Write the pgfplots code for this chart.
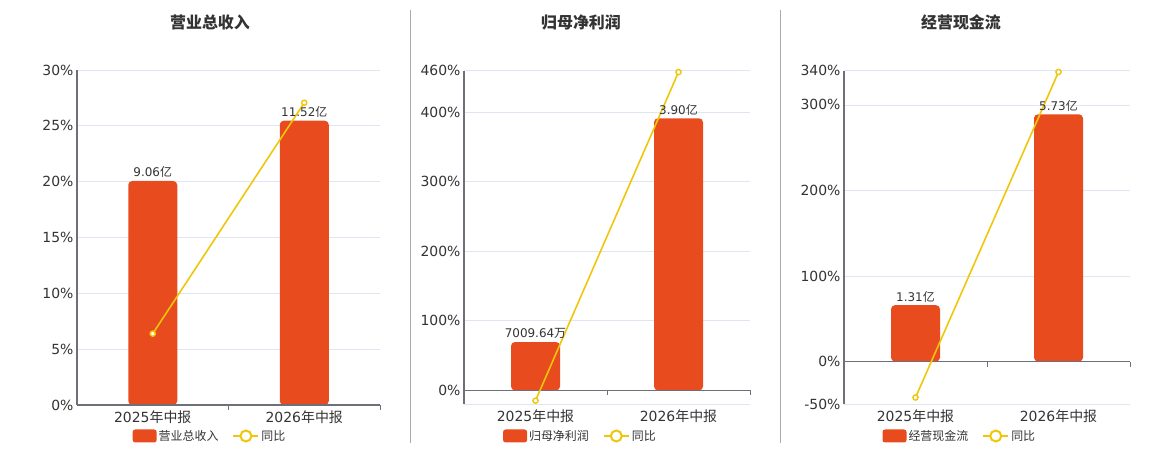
\documentclass[border=0pt]{standalone}
\usepackage{pgfplots}
\pgfplotsset{compat=1.18}
\usepackage{fontspec}
\setmainfont{DejaVu Sans}
\newfontfamily\cjk{Noto Sans CJK SC}
\definecolor{barc}{RGB}{232,76,30}
\definecolor{linec}{RGB}{240,198,10}
\definecolor{gridc}{RGB}{224,230,241}
\definecolor{axc}{RGB}{110,112,121}
\definecolor{txt}{RGB}{51,51,51}
\definecolor{sepc}{RGB}{170,170,170}
\pgfplotsset{
  panel/.style={
    scale only axis,
    axis line style={draw=none},
    major tick length=0pt,
    xmin=-0.5, xmax=1.5,
    xtick={0,1},
    xticklabels={{2025{\cjk 年中报}},{2026{\cjk 年中报}}},
    ymajorgrids, grid style={gridc, line width=0.8bp},
    tick label style={font=\fontsize{14}{16}\selectfont, text=txt},
    xticklabel style={yshift=-2bp},
    clip=false,
    legend columns=2,
    legend style={draw=none, fill=none, font=\fontsize{12}{14}\selectfont\cjk, text=txt,
      /tikz/every even column/.append style={column sep=12bp}},
  },
  barplot/.style={ybar, fill=barc, draw=none, bar width=49bp, rounded corners=4bp,
    point meta=explicit symbolic, nodes near coords,
    nodes near coords style={font=\fontsize{12}{14}\selectfont, text=txt, inner sep=3bp},
    legend image code/.code={\fill[barc, rounded corners=2.5bp] (0bp,-6.5bp) rectangle (24bp,6.5bp);}},
  lineplot/.style={linec, line width=1.6bp, mark=*, mark size=2.6bp,
    mark options={fill=white, draw=linec, line width=1.4bp},
    legend image code/.code={\draw[linec, line width=2bp] (0bp,0bp) -- (25bp,0bp);
      \draw[linec, fill=white, line width=2bp] (12.5bp,0bp) circle (5.5bp);}},
  axdraw/.code={},
}
\newcommand{\axislines}{%
  \draw[axc, line width=1.3bp] (axis cs:-0.5,0) -- (axis cs:1.5,0);
  \draw[axc, line width=1.3bp] (rel axis cs:0,0) -- (rel axis cs:0,1);
  \draw[axc, line width=1bp] (axis cs:0.5,0) -- ([yshift=-5bp]axis cs:0.5,0);
  \draw[axc, line width=1bp] (axis cs:1.5,0) -- ([yshift=-5bp]axis cs:1.5,0);
}
\begin{document}
\begin{tikzpicture}
\path[use as bounding box] (0,0) rectangle (1160bp,450bp);
\draw[sepc, line width=1bp] (410bp,7bp) -- (410bp,440bp);
\draw[sepc, line width=1bp] (780bp,7bp) -- (780bp,440bp);
\node[font=\fontsize{16}{18}\selectfont\cjk\bfseries, text=txt] at (210bp,428bp) {营业总收入};
\node[font=\fontsize{16}{18}\selectfont\cjk\bfseries, text=txt] at (581bp,428bp) {归母净利润};
\node[font=\fontsize{16}{18}\selectfont\cjk\bfseries, text=txt] at (961bp,428bp) {经营现金流};

% Panel 1
\begin{axis}[panel, at={(77bp,45bp)}, anchor=south west, width=303bp, height=335bp,
  ymin=0, ymax=30, ytick={0,5,10,15,20,25,30},
  yticklabels={0\%,5\%,10\%,15\%,20\%,25\%,30\%},
  legend style={at={(axis description cs:0.439,-0.0925)}, anchor=center}]
\addplot[barplot] coordinates {(0,20.06) [9.06{\cjk 亿}] (1,25.46) [11.52{\cjk 亿}]};
\addlegendentry{营业总收入}
\axislines
\addplot[lineplot] coordinates {(0,6.39) (1,27.07)};
\addlegendentry{同比}
\end{axis}

% Panel 2
\begin{axis}[panel, at={(464bp,45.7bp)}, anchor=south west, width=286bp, height=333.6bp,
  ymin=-20, ymax=460, ytick={-20,0,100,200,300,400,460},
  yticklabels={,0\%,100\%,200\%,300\%,400\%,460\%},
  legend style={at={(axis description cs:0.407,-0.095)}, anchor=center}]
\addplot[barplot] coordinates {(0,69.6) [7009.64{\cjk 万}] (1,391.5) [3.90{\cjk 亿}]};
\addlegendentry{归母净利润}
\axislines
\addplot[lineplot] coordinates {(0,-14.8) (1,458)};
\addlegendentry{同比}
\end{axis}

% Panel 3
\begin{axis}[panel, at={(844bp,45.7bp)}, anchor=south west, width=286bp, height=333.6bp,
  ymin=-50, ymax=340, ytick={-50,0,100,200,300,340},
  yticklabels={-50\%,0\%,100\%,200\%,300\%,340\%},
  legend style={at={(axis description cs:0.405,-0.095)}, anchor=center}]
\addplot[barplot] coordinates {(0,65.9) [1.31{\cjk 亿}] (1,289) [5.73{\cjk 亿}]};
\addlegendentry{经营现金流}
\axislines
\addplot[lineplot] coordinates {(0,-42.1) (1,338.5)};
\addlegendentry{同比}
\end{axis}
\end{tikzpicture}
\end{document}
